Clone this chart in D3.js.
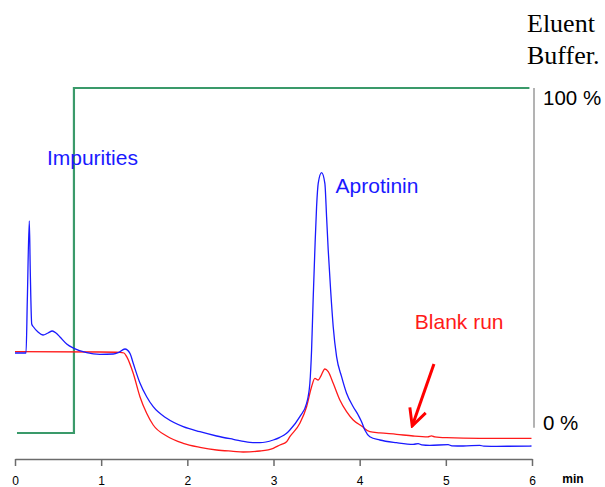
<!DOCTYPE html>
<html>
<head>
<meta charset="utf-8">
<script src="https://cdn.jsdelivr.net/npm/d3@7"></script>
<style>
  body { margin: 0; background: #fff; }
  svg { display: block; }
  .axis path, .axis line { stroke: #6b6b6b; stroke-width: 1.5; }
  .axis text { font-family: Arial, "Liberation Sans", sans-serif; font-size: 12px; fill: #000; }
</style>
</head>
<body>
<div id="chart"></div>
<script>
// time (min) / detector signal (mAU)
const sampleRun = [
  [0, 102], [0.128, 102], [0.143, 155], [0.166, 234], [0.177, 185], [0.194, 131],
  [0.215, 128], [0.267, 123], [0.325, 120], [0.383, 122], [0.433, 124], [0.476, 122],
  [0.522, 118], [0.6, 111], [0.684, 106.7], [0.832, 102.3], [0.986, 100.7], [1.14, 101],
  [1.198, 102.3], [1.276, 106], [1.334, 101.7], [1.372, 91.7], [1.45, 72], [1.528, 58.3],
  [1.604, 48.3], [1.76, 36.7], [1.952, 28.3], [2.146, 23.3], [2.34, 19], [2.533, 15.7],
  [2.726, 12.7], [2.842, 12.3], [2.997, 15], [3.074, 17.7], [3.152, 21.7], [3.19, 25],
  [3.306, 38.3], [3.384, 51.7], [3.422, 71.7], [3.442, 105], [3.46, 155], [3.48, 205],
  [3.5, 248.3], [3.519, 271.7], [3.558, 282.3], [3.596, 271.7], [3.616, 238.3], [3.635, 205],
  [3.663, 165], [3.693, 128.3], [3.732, 98.3], [3.79, 78.3], [3.848, 61.7], [3.925, 48.3],
  [3.983, 40], [4.022, 33.3], [4.06, 25], [4.118, 18.3], [4.234, 15], [4.428, 12.3],
  [4.621, 10.7], [4.679, 11.3], [4.72, 10.2], [4.814, 9.7], [5.027, 10.3], [5.07, 9.2],
  [5.201, 9], [5.394, 9.7], [5.44, 8.8], [5.588, 8.7], [5.994, 9]
];
const blankRun = [
  [0, 103.3], [0.986, 103], [1.218, 102.7], [1.265, 102], [1.296, 98.3], [1.372, 81.7],
  [1.45, 58.3], [1.528, 41.7], [1.604, 30], [1.76, 19], [1.952, 11.7], [2.146, 7.7],
  [2.34, 5], [2.533, 3.7], [2.648, 3], [2.842, 4], [2.997, 6.7], [3.074, 10], [3.152, 13.3],
  [3.19, 18.3], [3.306, 31.7], [3.384, 48.3], [3.442, 68.3], [3.48, 76.7], [3.519, 75],
  [3.546, 78.3], [3.596, 86], [3.635, 83.3], [3.693, 71.7], [3.77, 55], [3.848, 43.3],
  [3.925, 35], [4.022, 29], [4.118, 23.3], [4.234, 22.2], [4.428, 20.7], [4.621, 19],
  [4.79, 18.2], [4.833, 19.2], [4.872, 18.1], [5.008, 17.3], [5.394, 16.7], [5.994, 16.7]
];
// eluent buffer step (min, %)
const gradientTime = [0.023, 0.684, 0.684, 5.97];
const gradientPct = [0, 0, 100, 100];

const timeTicks = [0, 1, 2, 3, 4, 5, 6];
const pctLabels = [[100, "100 %"], [0, "0 %"]];
const peakLabels = [
  { text: "Impurities", t: 0.37, v: 290, colour: "#1a1aff" },
  { text: "Aprotinin", t: 3.72, v: 262, colour: "#1a1aff" },
  { text: "Blank run", t: 4.64, v: 126, colour: "#ff1a1a" }
];
// arrow pointing at the blank run baseline (min, mAU)
const arrowFrom = [4.862, 91];
const arrowTo = [4.61, 29];

const width = 605, height = 487;

const svg = d3.select("#chart")
  .append("svg")
    .attr("width", width)
    .attr("height", height);

const x = d3.scaleLinear().domain([0, 6]).range([15, 532]);
const y = d3.scaleLinear().domain([0, 300]).range([455, 155]);   // signal
const yPct = d3.scaleLinear().domain([0, 100]).range([433, 88]); // eluent %

// bottom time axis
svg.append("g")
   .attr("class", "axis")
   .attr("transform", "translate(0, 459)")
   .call(d3.axisBottom(x).tickValues(timeTicks).tickFormat(d3.format("d"))
           .tickSize(7).tickSizeOuter(0).tickPadding(10));

svg.append("text")
   .attr("x", 573)
   .attr("y", 483)
   .attr("text-anchor", "middle")
   .style("font-family", "Arial, 'Liberation Sans', sans-serif")
   .style("font-size", "12px")
   .style("font-weight", "bold")
   .text("min");

// right % axis (plain line)
svg.append("line")
   .attr("x1", 534).attr("x2", 534)
   .attr("y1", yPct(100)).attr("y2", yPct(1.5))
   .attr("stroke", "#8a8a8a")
   .attr("stroke-width", 1.3);

svg.selectAll(".pct")
   .data(pctLabels)
   .enter()
   .append("text")
     .attr("class", "pct")
     .attr("x", 543)
     .attr("y", d => d[0] == 100 ? yPct(d[0]) + 17 : yPct(d[0]) - 3)
     .style("font-family", "Arial, 'Liberation Sans', sans-serif")
     .style("font-size", "20.5px")
     .text(d => d[1]);

svg.append("text")
   .style("font-family", "'Liberation Serif', 'Times New Roman', serif")
   .style("font-size", "26px")
   .selectAll("tspan")
   .data(["Eluent", "Buffer."])
   .enter()
   .append("tspan")
     .attr("x", 527)
     .attr("y", (d, i) => 32 + i * 32)
     .text(d => d);

// gradient line
const gradient = gradientTime.map((t, i) => [t, gradientPct[i]]);
svg.append("path")
   .datum(gradient)
   .attr("fill", "none")
   .attr("stroke", "#3a9a6a")
   .attr("stroke-width", 2.2)
   .attr("d", d3.line().x(d => x(d[0])).y(d => yPct(d[1])));

// chromatograms
const line = d3.line()
  .x(d => x(d[0]))
  .y(d => y(d[1]))
  .curve(d3.curveMonotoneX);

svg.append("path")
   .datum(blankRun)
   .attr("fill", "none")
   .attr("stroke", "#ff1a1a")
   .attr("stroke-width", 1.3)
   .attr("d", line);

svg.append("path")
   .datum(sampleRun)
   .attr("fill", "none")
   .attr("stroke", "#1a1aff")
   .attr("stroke-width", 1.3)
   .attr("d", line);

// labels
svg.selectAll(".peak")
   .data(peakLabels)
   .enter()
   .append("text")
     .attr("class", "peak")
     .attr("x", d => x(d.t))
     .attr("y", d => y(d.v))
     .attr("fill", d => d.colour)
     .style("font-family", "Arial, 'Liberation Sans', sans-serif")
     .style("font-size", "21px")
     .text(d => d.text);

// arrow
svg.append("defs")
   .append("marker")
     .attr("id", "head")
     .attr("viewBox", "0 0 10 10")
     .attr("refX", 9).attr("refY", 5)
     .attr("markerWidth", 7).attr("markerHeight", 7)
     .attr("orient", "auto")
   .append("path")
     .attr("d", "M1,1 L9,5 L1,9")
     .attr("fill", "none")
     .attr("stroke", "#ff0000")
     .attr("stroke-width", 1.4);

svg.append("line")
   .attr("x1", x(arrowFrom[0])).attr("y1", y(arrowFrom[1]))
   .attr("x2", x(arrowTo[0])).attr("y2", y(arrowTo[1]))
   .attr("stroke", "#ff0000")
   .attr("stroke-width", 3)
   .attr("marker-end", "url(#head)");
</script>
</body>
</html>
